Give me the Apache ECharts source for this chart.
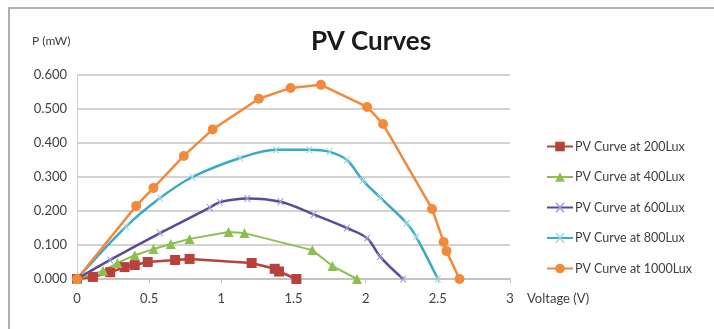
<!DOCTYPE html>
<html>
<head>
<meta charset="utf-8">
<script src="https://cdn.jsdelivr.net/npm/echarts@6/dist/echarts.min.js"></script>
<style>html,body{margin:0;padding:0;background:#fff}#c{width:714px;height:329px}</style>
</head>
<body>
<div id="c"></div>
<script>
const seriesNames = ['PV Curve at 200Lux','PV Curve at 400Lux','PV Curve at 600Lux','PV Curve at 800Lux','PV Curve at 1000Lux'];
const xTicks = [0, 0.5, 1, 1.5, 2, 2.5, 3];
const yTicks = [0, 0.1, 0.2, 0.3, 0.4, 0.5, 0.6];
const lux200 = [[0,0],[0.11,0.006],[0.23,0.02],[0.33,0.035],[0.40,0.041],[0.49,0.05],[0.68,0.056],[0.78,0.059],[1.21,0.047],[1.37,0.03],[1.40,0.022],[1.52,0.0]];
const lux400 = [[0,0],[0.18,0.024],[0.28,0.047],[0.40,0.07],[0.53,0.088],[0.65,0.103],[0.78,0.118],[1.05,0.138],[1.16,0.135],[1.63,0.085],[1.77,0.038],[1.94,0.0]];
const lux600 = [[0,0],[0.23,0.056],[0.575,0.135],[0.92,0.21],[0.99,0.226],[1.18,0.237],[1.41,0.227],[1.64,0.19],[1.87,0.15],[2.01,0.12],[2.10,0.066],[2.26,0.0]];
const lux800 = [[0,0],[0.34,0.154],[0.575,0.238],[0.80,0.30],[1.13,0.356],[1.38,0.38],[1.61,0.38],[1.75,0.374],[1.87,0.35],[1.98,0.29],[2.10,0.24],[2.285,0.164],[2.35,0.124],[2.50,0.0]];
const lux1000 = [[0,0],[0.41,0.215],[0.53,0.268],[0.74,0.362],[0.94,0.44],[1.26,0.53],[1.48,0.562],[1.69,0.571],[2.01,0.506],[2.12,0.456],[2.46,0.206],[2.54,0.109],[2.56,0.082],[2.65,0.0]];

const crossPath = 'path://M0,0L2,0L5,3L8,0L10,0L6,4L10,8L8,8L5,5L2,8L0,8L4,4Z';
const chart = echarts.init(document.getElementById('c'));
const font = 'Lato, "Open Sans", sans-serif';
function mk(name, data, color, symbol, size, smooth, width, markColor) {
  return {
    name, type: 'line', data, smooth, symbol, symbolSize: size,
    showAllSymbol: true,
    lineStyle: {color, width: width},
    itemStyle: {color: markColor || color},
    emphasis: {disabled: true}
  };
}
chart.setOption({
  animation: false,
  title: {
    text: 'PV Curves', left: 366, top: 24, textAlign: 'center',
    textStyle: {fontFamily: font, fontSize: 26, fontWeight: 'bold', color: '#1a1a1a'}
  },
  legend: {
    orient: 'vertical', left: 541, top: 135, itemGap: 17.5, itemWidth: 26, itemHeight: 12,
    data: seriesNames,
    textStyle: {fontFamily: font, fontSize: 12.5, color: '#404040', padding: [0,0,0,-3]}
  },
  grid: {left: 77, right: 204, top: 75, bottom: 50},
  xAxis: {
    type: 'value', min: xTicks[0], max: xTicks[xTicks.length-1], interval: 0.5,
    axisLine: {show: true, lineStyle: {color: '#bfbfbf', width: 1.5}},
    axisTick: {show: true, length: 4, lineStyle: {color: '#bfbfbf'}},
    axisLabel: {fontFamily: font, fontSize: 13, color: '#404040', margin: 13},
    splitLine: {show: false}
  },
  yAxis: {
    type: 'value', min: yTicks[0], max: yTicks[yTicks.length-1], interval: 0.1,
    axisLine: {show: true, lineStyle: {color: '#cfcfcf', width: 1}},
    axisTick: {show: false},
    axisLabel: {fontFamily: font, fontSize: 13, color: '#404040', margin: 10, formatter: v => v.toFixed(3)},
    splitLine: {show: true, lineStyle: {color: '#c4c4c4', width: 1.5}}
  },
  graphic: [
    {type: 'line', shape: {x1: 8, y1: 8, x2: 714, y2: 8}, style: {stroke: '#b0b0b0', lineWidth: 2}},
    {type: 'line', shape: {x1: 9, y1: 8, x2: 9, y2: 329}, style: {stroke: '#b0b0b0', lineWidth: 2}},
    {type: 'text', left: 32, top: 35, style: {text: 'P (mW)', font: '12px ' + font, fill: '#404040'}},
    {type: 'text', left: 527, top: 292, style: {text: 'Voltage (V)', font: '13px ' + font, fill: '#404040'}}
  ],
  series: [
    mk(seriesNames[0], lux200, '#b9403b', 'rect', 10, false, 2.5),
    mk(seriesNames[1], lux400, '#8cbf4f', 'triangle', 10, false, 2),
    mk(seriesNames[2], lux600, '#5a4a98', crossPath, 7, 0.35, 2.5, '#a49bd0'),
    mk(seriesNames[3], lux800, '#3aa9c6', crossPath, 7, 0.35, 2.5, '#9fd6e6'),
    mk(seriesNames[4], lux1000, '#f28a3c', 'circle', 10, false, 2.5)
  ]
});
</script>
</body>
</html>
